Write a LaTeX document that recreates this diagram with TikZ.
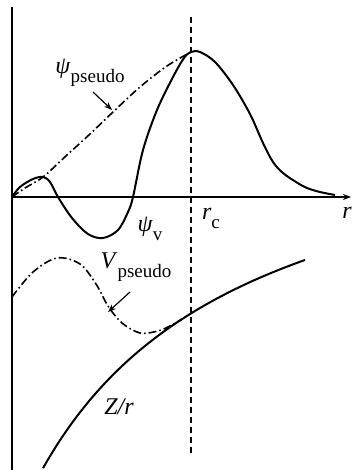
\documentclass[tikz,border=0pt]{standalone}
\usepackage{fontspec}
\setmainfont{Liberation Serif}
\usetikzlibrary{arrows.meta}
\newcommand\lbl[2]{\textit{#1}\raisebox{-0.38em}{\fontsize{9.5}{10}\selectfont #2}}
\tikzset{
  axisline/.style={line width=0.75pt},
  curve/.style={line width=1pt, line join=round},
  pseudocurve/.style={line width=0.8pt, dash pattern=on 4pt off 1.5pt on 0.8pt off 1.5pt},
  rcline/.style={line width=0.7pt, dash pattern=on 3pt off 2pt},
  lab/.style={font=\fontsize{12}{14}\selectfont, inner sep=0pt},
  pointer/.style={line width=0.6pt, -{Stealth[length=4pt,width=3pt]}}
}
\begin{document}
\begin{tikzpicture}[x=0.5pt,y=-0.5pt]
\useasboundingbox (0,0) rectangle (352,470);
% axes
\coordinate (yb) at (12,470);
\coordinate (yt) at (12,7);
\coordinate (o) at (12,197);
\coordinate (xe) at (351,197);
\draw[axisline] (yb) -- (yt);
\draw[axisline,-{Stealth[length=4pt,width=3pt]}] (o) -- (xe);
% r_c dashed line
\coordinate (rct) at (191,17);
\coordinate (rcb) at (191,453);
\draw[rcline] (rct) -- (rcb);
% psi_v
\draw[curve] plot[smooth, tension=0.55] coordinates {
 (12,197) (20,187) (33,179) (43,177) (50,182) (58,197) (72,218) (88,234) (103,238) (118,230) (128,212) (133,197)
 (143,150) (157,110) (173,77) (184,58) (191,52) (200,52) (215,62) (233,85) (250,114) (263,143) (273,162) (283,173) (296,182) (307,188) (320,192) (335,195)};
% psi_pseudo
\draw[pseudocurve] plot[smooth, tension=0.55] coordinates {
 (12,197) (25,188) (43,177) (67,155) (90,134) (113,112) (140,87) (167,66) (191,52)};
% Z/r
\draw[curve] plot[domain=43:305, samples=60] (\x, {90.7+804/((\x+170)/100)});
% V_pseudo
\draw[pseudocurve] plot[smooth, tension=0.55] coordinates {
 (12,297) (33,272) (57,258) (80,264) (96,284) (108,306) (122,323) (140,333) (158,331) (170,326) (182,319)};
% labels
\node[lab] (psipl) at (90,73) {\lbl{ψ}{pseudo}};
\node[lab] (psiv) at (150,229) {\lbl{ψ}{v}};
\node[lab] (rcl) at (211,218) {\lbl{r}{c}};
\node[lab] (rl) at (347,213) {\textit{r}};
\node[lab] (vpl) at (136,267) {\lbl{V}{pseudo}};
\node[lab] (zr) at (119,407) {\textit{Z/r}};
% pointers
\coordinate (a1s) at (93,92);
\coordinate (a1e) at (112,110);
\draw[pointer] (a1s) -- (a1e);
\coordinate (a2s) at (130,292);
\coordinate (a2e) at (108,312);
\draw[pointer] (a2s) -- (a2e);
\end{tikzpicture}
\end{document}
